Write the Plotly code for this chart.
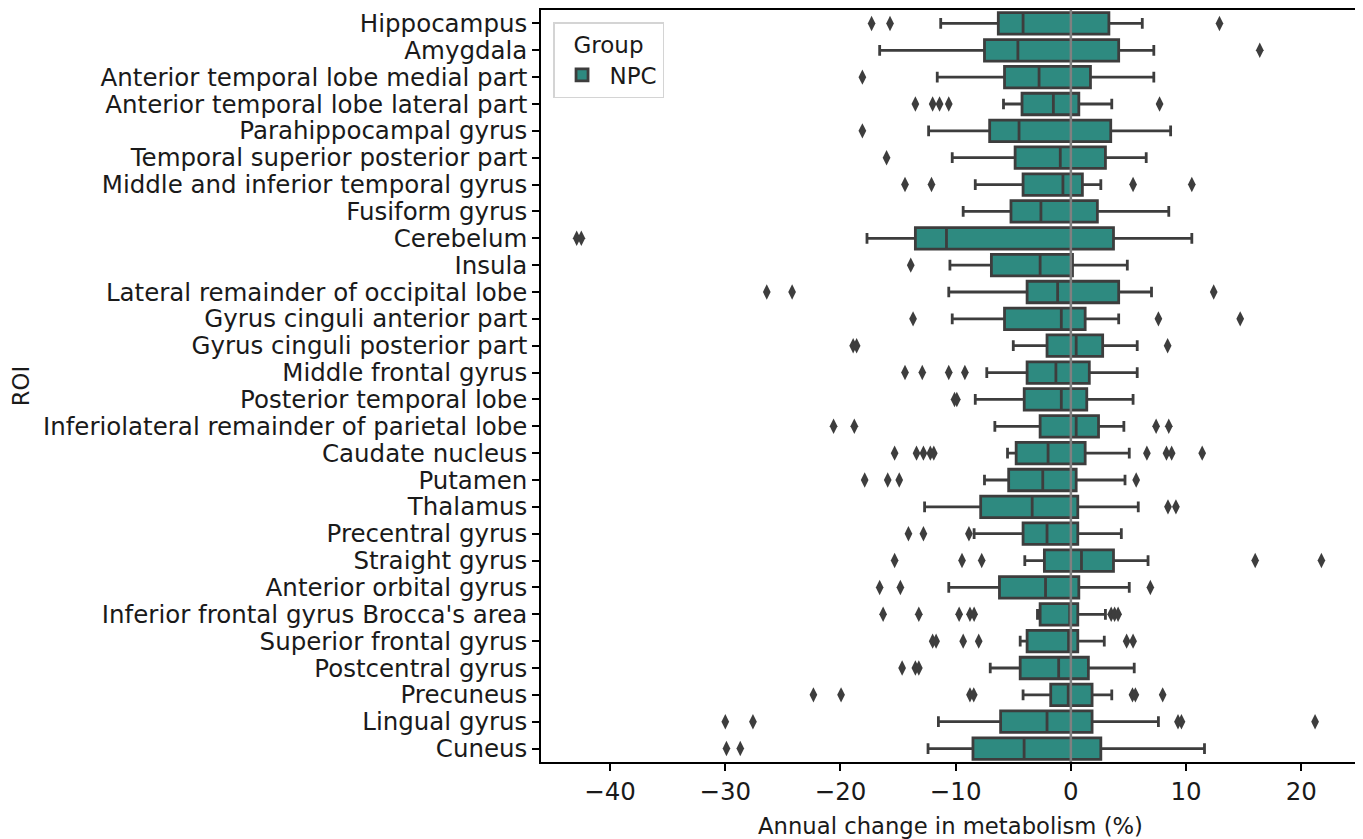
import plotly.graph_objects as go

rois = [
    "Hippocampus", "Amygdala", "Anterior temporal lobe medial part",
    "Anterior temporal lobe lateral part", "Parahippocampal gyrus",
    "Temporal superior posterior part", "Middle and inferior temporal gyrus",
    "Fusiform gyrus", "Cerebelum", "Insula", "Lateral remainder of occipital lobe",
    "Gyrus cinguli anterior part", "Gyrus cinguli posterior part",
    "Middle frontal gyrus", "Posterior temporal lobe",
    "Inferiolateral remainder of parietal lobe", "Caudate nucleus", "Putamen",
    "Thalamus", "Precentral gyrus", "Straight gyrus", "Anterior orbital gyrus",
    "Inferior frontal gyrus Brocca's area", "Superior frontal gyrus",
    "Postcentral gyrus", "Precuneus", "Lingual gyrus", "Cuneus",
]

lower_whisker = [-11.3, -16.6, -11.6, -5.85, -12.35, -10.3, -8.3, -9.35, -17.7, -10.5,
                 -10.6, -10.3, -5.0, -7.3, -8.3, -6.6, -5.5, -7.5, -12.7, -8.4,
                 -4.0, -10.6, -2.9, -4.4, -7.0, -4.15, -11.5, -12.4]
q1 = [-6.3, -7.5, -5.76, -4.24, -7.05, -4.84, -4.15, -5.2, -13.5, -6.9,
      -3.8, -5.76, -2.07, -3.8, -4.05, -2.67, -4.75, -5.4, -7.83, -4.15,
      -2.3, -6.2, -2.67, -3.8, -4.4, -1.75, -6.1, -8.5]
median = [-4.15, -4.6, -2.76, -1.52, -4.5, -0.92, -0.69, -2.6, -10.8, -2.67,
          -1.15, -0.83, 0.46, -1.3, -0.83, 0.46, -1.98, -2.44, -3.36, -2.07,
          0.92, -2.2, -0.1, -0.2, -1.06, -0.23, -2.07, -4.06]
q3 = [3.3, 4.15, 1.7, 0.69, 3.46, 3.0, 1.0, 2.3, 3.7, 0.14,
      4.15, 1.24, 2.76, 1.6, 1.38, 2.4, 1.24, 0.46, 0.6, 0.6,
      3.7, 0.69, 0.6, 0.6, 1.52, 1.84, 1.84, 2.6]
upper_whisker = [6.2, 7.2, 7.2, 3.55, 8.66, 6.54, 2.6, 8.5, 10.5, 4.9,
                 7.0, 4.15, 5.76, 5.76, 5.4, 4.6, 5.07, 4.7, 5.85, 4.38,
                 6.7, 5.07, 3.0, 2.9, 5.5, 3.55, 7.6, 11.6]
outliers = [
    [-17.3, -15.7, 12.9],
    [16.4],
    [-18.1],
    [-13.5, -12.0, -11.4, -10.6, 7.7],
    [-18.1],
    [-16.0],
    [-14.4, -12.1, 5.4, 10.5],
    [],
    [-42.9, -42.5],
    [-13.9],
    [-26.4, -24.2, 12.4],
    [-13.7, 7.6, 14.7],
    [-18.9, -18.6, 8.4],
    [-14.4, -12.9, -10.6, -9.2],
    [-10.1, -9.9],
    [-20.6, -18.8, 7.4, 8.5],
    [-15.3, -13.4, -12.8, -12.2, -11.9, 6.6, 8.3, 8.75, 11.4],
    [-17.9, -15.9, -14.9, 5.67],
    [8.43, 9.12],
    [-14.1, -12.8, -8.85],
    [-15.3, -9.45, -7.74, 16.0, 21.75],
    [-16.6, -14.8, 6.9],
    [-16.3, -13.2, -9.7, -8.76, -8.4, 3.5, 3.8, 4.1],
    [-12.0, -11.7, -9.35, -8.0, 4.84, 5.4],
    [-14.65, -13.5, -13.2],
    [-22.35, -19.95, -8.76, -8.43, 5.35, 5.6, 7.97],
    [-30.0, -27.6, 9.3, 9.6, 21.2],
    [-29.9, -28.7],
]

x_ticks = [-40, -30, -20, -10, 0, 10, 20]

FILL = "#2e8a80"
EDGE = "#3d3d3d"
FONT = "DejaVu Sans"
FS_TICK = 24.5
FS_TITLE = 22.7
FS_LEG = 23

fig = go.Figure()
fig.add_trace(go.Box(
    y=rois, q1=q1, median=median, q3=q3,
    lowerfence=lower_whisker, upperfence=upper_whisker,
    orientation="h", name="NPC", fillcolor=FILL,
    line=dict(color=EDGE, width=2.8), width=0.8, whiskerwidth=0.5,
    boxpoints=False, hoverinfo="x+y", showlegend=True,
))

ox, oy = [], []
for roi, pts in zip(rois, outliers):
    for p in pts:
        ox.append(p)
        oy.append(roi)
fig.add_trace(go.Scatter(
    x=ox, y=oy, mode="markers", showlegend=False,
    marker=dict(symbol="diamond-tall", size=11, color=EDGE, line=dict(width=0)),
))

fig.add_vline(x=0, line_color="#808080", line_width=2.5, layer="above")

# the page body has an 8px margin, so the figure is shifted by (8, 8)
fig.update_layout(
    width=1355, height=831,
    margin=dict(l=533, r=3, t=2, b=77),
    paper_bgcolor="white", plot_bgcolor="white",
    font=dict(family=FONT, size=FS_TICK, color="#1a1a1a"),
    legend=dict(
        title=dict(text="Group", side="top center", font=dict(size=FS_LEG)),
        x=0.0147, y=0.984, xanchor="left", yanchor="top",
        bgcolor="rgba(255,255,255,0.85)", bordercolor="#d4d4d4", borderwidth=1.5,
        font=dict(size=FS_LEG), itemwidth=45,
    ),
    xaxis=dict(
        range=[-46.0, 25.1], tickmode="array", tickvals=x_ticks,
        ticktext=["\u2212" + str(-v) if v < 0 else str(v) for v in x_ticks],
        tickfont=dict(size=FS_TICK),
        showgrid=False, zeroline=False, showline=True, linecolor="black",
        linewidth=1.5, mirror=True, ticks="outside", ticklen=7, tickwidth=1.5,
        tickcolor="black", automargin=False,
        title=dict(text="Annual change in metabolism (%)", font=dict(size=FS_TITLE)),
    ),
    yaxis=dict(
        type="category", categoryorder="array", categoryarray=rois,
        tickmode="array", tickvals=rois, ticktext=rois,
        tickfont=dict(size=FS_TICK),
        range=[27.5, -0.5], showgrid=False, zeroline=False, showline=True,
        linecolor="black", linewidth=1.5, mirror=True, ticks="outside",
        ticklen=7, tickwidth=1.5, tickcolor="black", automargin=False,
        title=dict(text="ROI", font=dict(size=FS_TITLE)),
    ),
)

fig.write_html("out.html")
